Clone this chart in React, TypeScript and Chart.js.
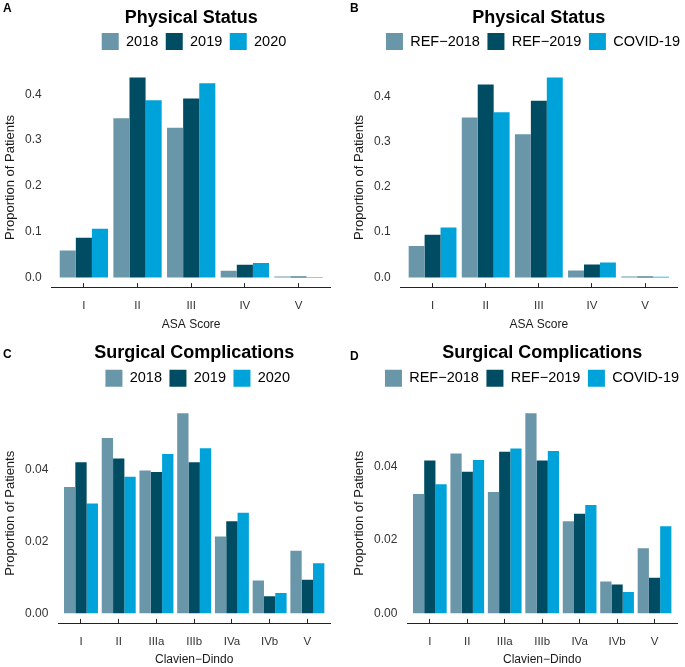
import React, { useEffect, useRef } from 'react';
import { Chart, registerables } from 'chart.js';

Chart.register(...registerables);

// ---------- data ----------
const asaCategories = ['I', 'II', 'III', 'IV', 'V'];
const cdCategories = ['I', 'II', 'IIIa', 'IIIb', 'IVa', 'IVb', 'V'];
const yearLabels = ['2018', '2019', '2020'];
const cohortLabels = ['REF\u22122018', 'REF\u22122019', 'COVID-19'];

// Panel A: Physical Status by year
const asaYear2018 = [0.059, 0.3475, 0.327, 0.0146, 0.002];
const asaYear2019 = [0.0868, 0.4365, 0.3906, 0.0278, 0.002];
const asaYear2020 = [0.1066, 0.387, 0.424, 0.0315, 0.001];

// Panel B: Physical Status by cohort
const asaRef2018 = [0.0694, 0.353, 0.316, 0.0155, 0.002];
const asaRef2019 = [0.0944, 0.4259, 0.3898, 0.0287, 0.002];
const asaCovid = [0.1105, 0.3646, 0.4413, 0.0331, 0.0015];

// Panel C: Surgical Complications by year
const cdYear2018 = [0.0353, 0.049, 0.0399, 0.0559, 0.0215, 0.0092, 0.0175];
const cdYear2019 = [0.0422, 0.0433, 0.0395, 0.0422, 0.0257, 0.0048, 0.0094];
const cdYear2020 = [0.0307, 0.0382, 0.0445, 0.0461, 0.0281, 0.0057, 0.014];

// Panel D: Surgical Complications by cohort
const cdRef2018 = [0.0326, 0.0437, 0.0332, 0.0547, 0.0252, 0.0087, 0.0178];
const cdRef2019 = [0.0418, 0.0387, 0.0442, 0.0418, 0.0272, 0.0079, 0.0097];
const cdCovid = [0.0353, 0.0419, 0.0451, 0.0444, 0.0296, 0.0058, 0.0238];

const asaYTicks = [0, 0.1, 0.2, 0.3, 0.4];
const asaYTickLabels = ['0.0', '0.1', '0.2', '0.3', '0.4'];
const cdYTicks = [0, 0.02, 0.04];
const cdYTickLabels = ['0.00', '0.02', '0.04'];

const seriesColors = ['#6A96A9', '#004C63', '#00A3D9'];

const FONT = "'Liberation Sans', Arial, Helvetica, sans-serif";

// ---------- layout ----------
const row1 = { titlePad: { top: 9.5, bottom: -2 }, legendExtra: 7.5, xTickPad: 15.5, xTitlePad: { top: -10.1, bottom: 0.8 } };
const row2 = { titlePad: { top: 11.3, bottom: 0 }, legendExtra: 6.5, xTickPad: 16.4, xTitlePad: { top: -12.7, bottom: -0.2 } };

type PanelDef = {
  letter: string;
  title: string;
  xTitle: string;
  cats: string[];
  labels: string[];
  series: number[][];
  yTicks: number[];
  yTickLabels: string[];
  left: number; top: number; w: number; h: number; padRight: number;
  legendCx: number;
  letterPos: { left: number; top: number };
  row: typeof row1;
};

const panels: PanelDef[] = [
  {
    letter: 'A', title: 'Physical Status', xTitle: 'ASA Score', cats: asaCategories, labels: yearLabels,
    series: [asaYear2018, asaYear2019, asaYear2020], yTicks: asaYTicks, yTickLabels: asaYTickLabels,
    left: 0, top: 0, w: 342, h: 333, padRight: 11.3, legendCx: 194, letterPos: { left: 3, top: 2.4 }, row: row1,
  },
  {
    letter: 'B', title: 'Physical Status', xTitle: 'ASA Score', cats: asaCategories, labels: cohortLabels,
    series: [asaRef2018, asaRef2019, asaCovid], yTicks: asaYTicks, yTickLabels: asaYTickLabels,
    left: 349, top: 0, w: 336, h: 333, padRight: 8, legendCx: 184, letterPos: { left: 350, top: 2.4 }, row: row1,
  },
  {
    letter: 'C', title: 'Surgical Complications', xTitle: 'Clavien\u2212Dindo', cats: cdCategories, labels: yearLabels,
    series: [cdYear2018, cdYear2019, cdYear2020], yTicks: cdYTicks, yTickLabels: cdYTickLabels,
    left: 0, top: 333, w: 342, h: 334, padRight: 12, legendCx: 197.7, letterPos: { left: 3, top: 348 }, row: row2,
  },
  {
    letter: 'D', title: 'Surgical Complications', xTitle: 'Clavien\u2212Dindo', cats: cdCategories, labels: cohortLabels,
    series: [cdRef2018, cdRef2019, cdCovid], yTicks: cdYTicks, yTickLabels: cdYTickLabels,
    left: 349, top: 333, w: 336, h: 334, padRight: 8, legendCx: 183, letterPos: { left: 350, top: 349.5 }, row: row2,
  },
];

function makeTweaks(legendExtra: number, legendCx: number) {
  return {
    id: 'panelTweaks',
    beforeInit(chart: any) {
      const lg = chart.legend;
      if (!lg) return;
      const origFit = lg.fit;
      lg.fit = function () {
        origFit.call(this);
        this.height += legendExtra;
      };
    },
    afterLayout(chart: any) {
      const lg = chart.legend;
      if (!lg) return;
      const w = lg.right - lg.left;
      lg.left = legendCx - w / 2;
      lg.right = lg.left + w;
    },
  };
}

function Panel({ p }: { p: PanelDef }) {
  const ref = useRef<HTMLCanvasElement | null>(null);
  useEffect(() => {
    if (!ref.current) return;
    const allVals = p.series.flat();
    const maxVal = Math.max(...allVals);
    const chart = new Chart(ref.current, {
      type: 'bar',
      data: {
        datasets: p.series.map((vals, si) => ({
          label: p.labels[si],
          data: vals.map((v, i) => ({ x: i, y: v })),
          backgroundColor: seriesColors[si],
          borderWidth: 0,
          categoryPercentage: 0.9,
          barPercentage: 1,
        })),
      } as any,
      options: {
        animation: false,
        responsive: false,
        devicePixelRatio: 1,
        events: [],
        layout: { padding: { left: 0, right: p.padRight, top: 0, bottom: 0 } },
        plugins: {
          tooltip: { enabled: false },
          title: {
            display: true,
            text: p.title,
            fullSize: false,
            color: '#000',
            font: { family: FONT, size: 18, weight: 'bold', lineHeight: 1 },
            padding: p.row.titlePad,
          },
          legend: {
            display: true,
            position: 'top',
            align: 'center',
            labels: {
              boxWidth: 17,
              boxHeight: 17,
              padding: 7.5,
              color: '#000',
              font: { family: FONT, size: 14.5 },
            },
          },
        },
        scales: {
          x: {
            type: 'linear',
            min: -0.6,
            max: p.cats.length - 1 + 0.6,
            offset: false,
            afterBuildTicks: (axis: any) => {
              axis.ticks = p.cats.map((_, i) => ({ value: i }));
            },
            ticks: {
              autoSkip: false,
              maxRotation: 0,
              minRotation: 0,
              padding: p.row.xTickPad,
              color: '#333',
              font: { family: FONT, size: 11.5 },
              callback: (v: any) => p.cats[v] ?? '',
            },
            grid: {
              display: true,
              drawOnChartArea: false,
              drawTicks: true,
              tickLength: -4.4,
              tickColor: '#222',
              tickWidth: 1,
              offset: false,
            },
            border: { display: true, color: '#222', width: 1 },
            title: {
              display: true,
              text: p.xTitle,
              color: '#1a1a1a',
              font: { family: FONT, size: 12 },
              padding: p.row.xTitlePad,
            },
          },
          y: {
            type: 'linear',
            min: -0.05 * maxVal,
            max: 1.05 * maxVal,
            afterBuildTicks: (axis: any) => {
              axis.ticks = p.yTicks.map((v) => ({ value: v }));
            },
            ticks: {
              padding: 10,
              color: '#333',
              font: { family: FONT, size: 12 },
              callback: (_v: any, i: number) => p.yTickLabels[i],
            },
            grid: { display: false, drawTicks: false, tickLength: 0 },
            border: { display: false },
            title: {
              display: true,
              text: 'Proportion of Patients',
              color: '#1a1a1a',
              font: { family: FONT, size: 13 },
              padding: { top: 2.7, bottom: -3.3 },
            },
          },
        },
      } as any,
      plugins: [makeTweaks(p.row.legendExtra, p.legendCx)],
    });
    return () => chart.destroy();
  }, []);
  return (
    <canvas
      ref={ref}
      width={p.w}
      height={p.h}
      style={{ position: 'absolute', left: p.left, top: p.top, width: p.w, height: p.h }}
    />
  );
}

export default function App() {
  return (
    <div style={{ position: 'absolute', left: 0, top: 0, width: 685, height: 667, background: '#fff', overflow: 'hidden' }}>
      {panels.map((p) => (
        <Panel key={p.letter} p={p} />
      ))}
      {panels.map((p) => (
        <div
          key={'l' + p.letter}
          style={{
            position: 'absolute',
            left: p.letterPos.left,
            top: p.letterPos.top,
            fontFamily: FONT,
            fontWeight: 'bold',
            fontSize: 12,
            lineHeight: '12px',
            color: '#000',
          }}
        >
          {p.letter}
        </div>
      ))}
    </div>
  );
}
